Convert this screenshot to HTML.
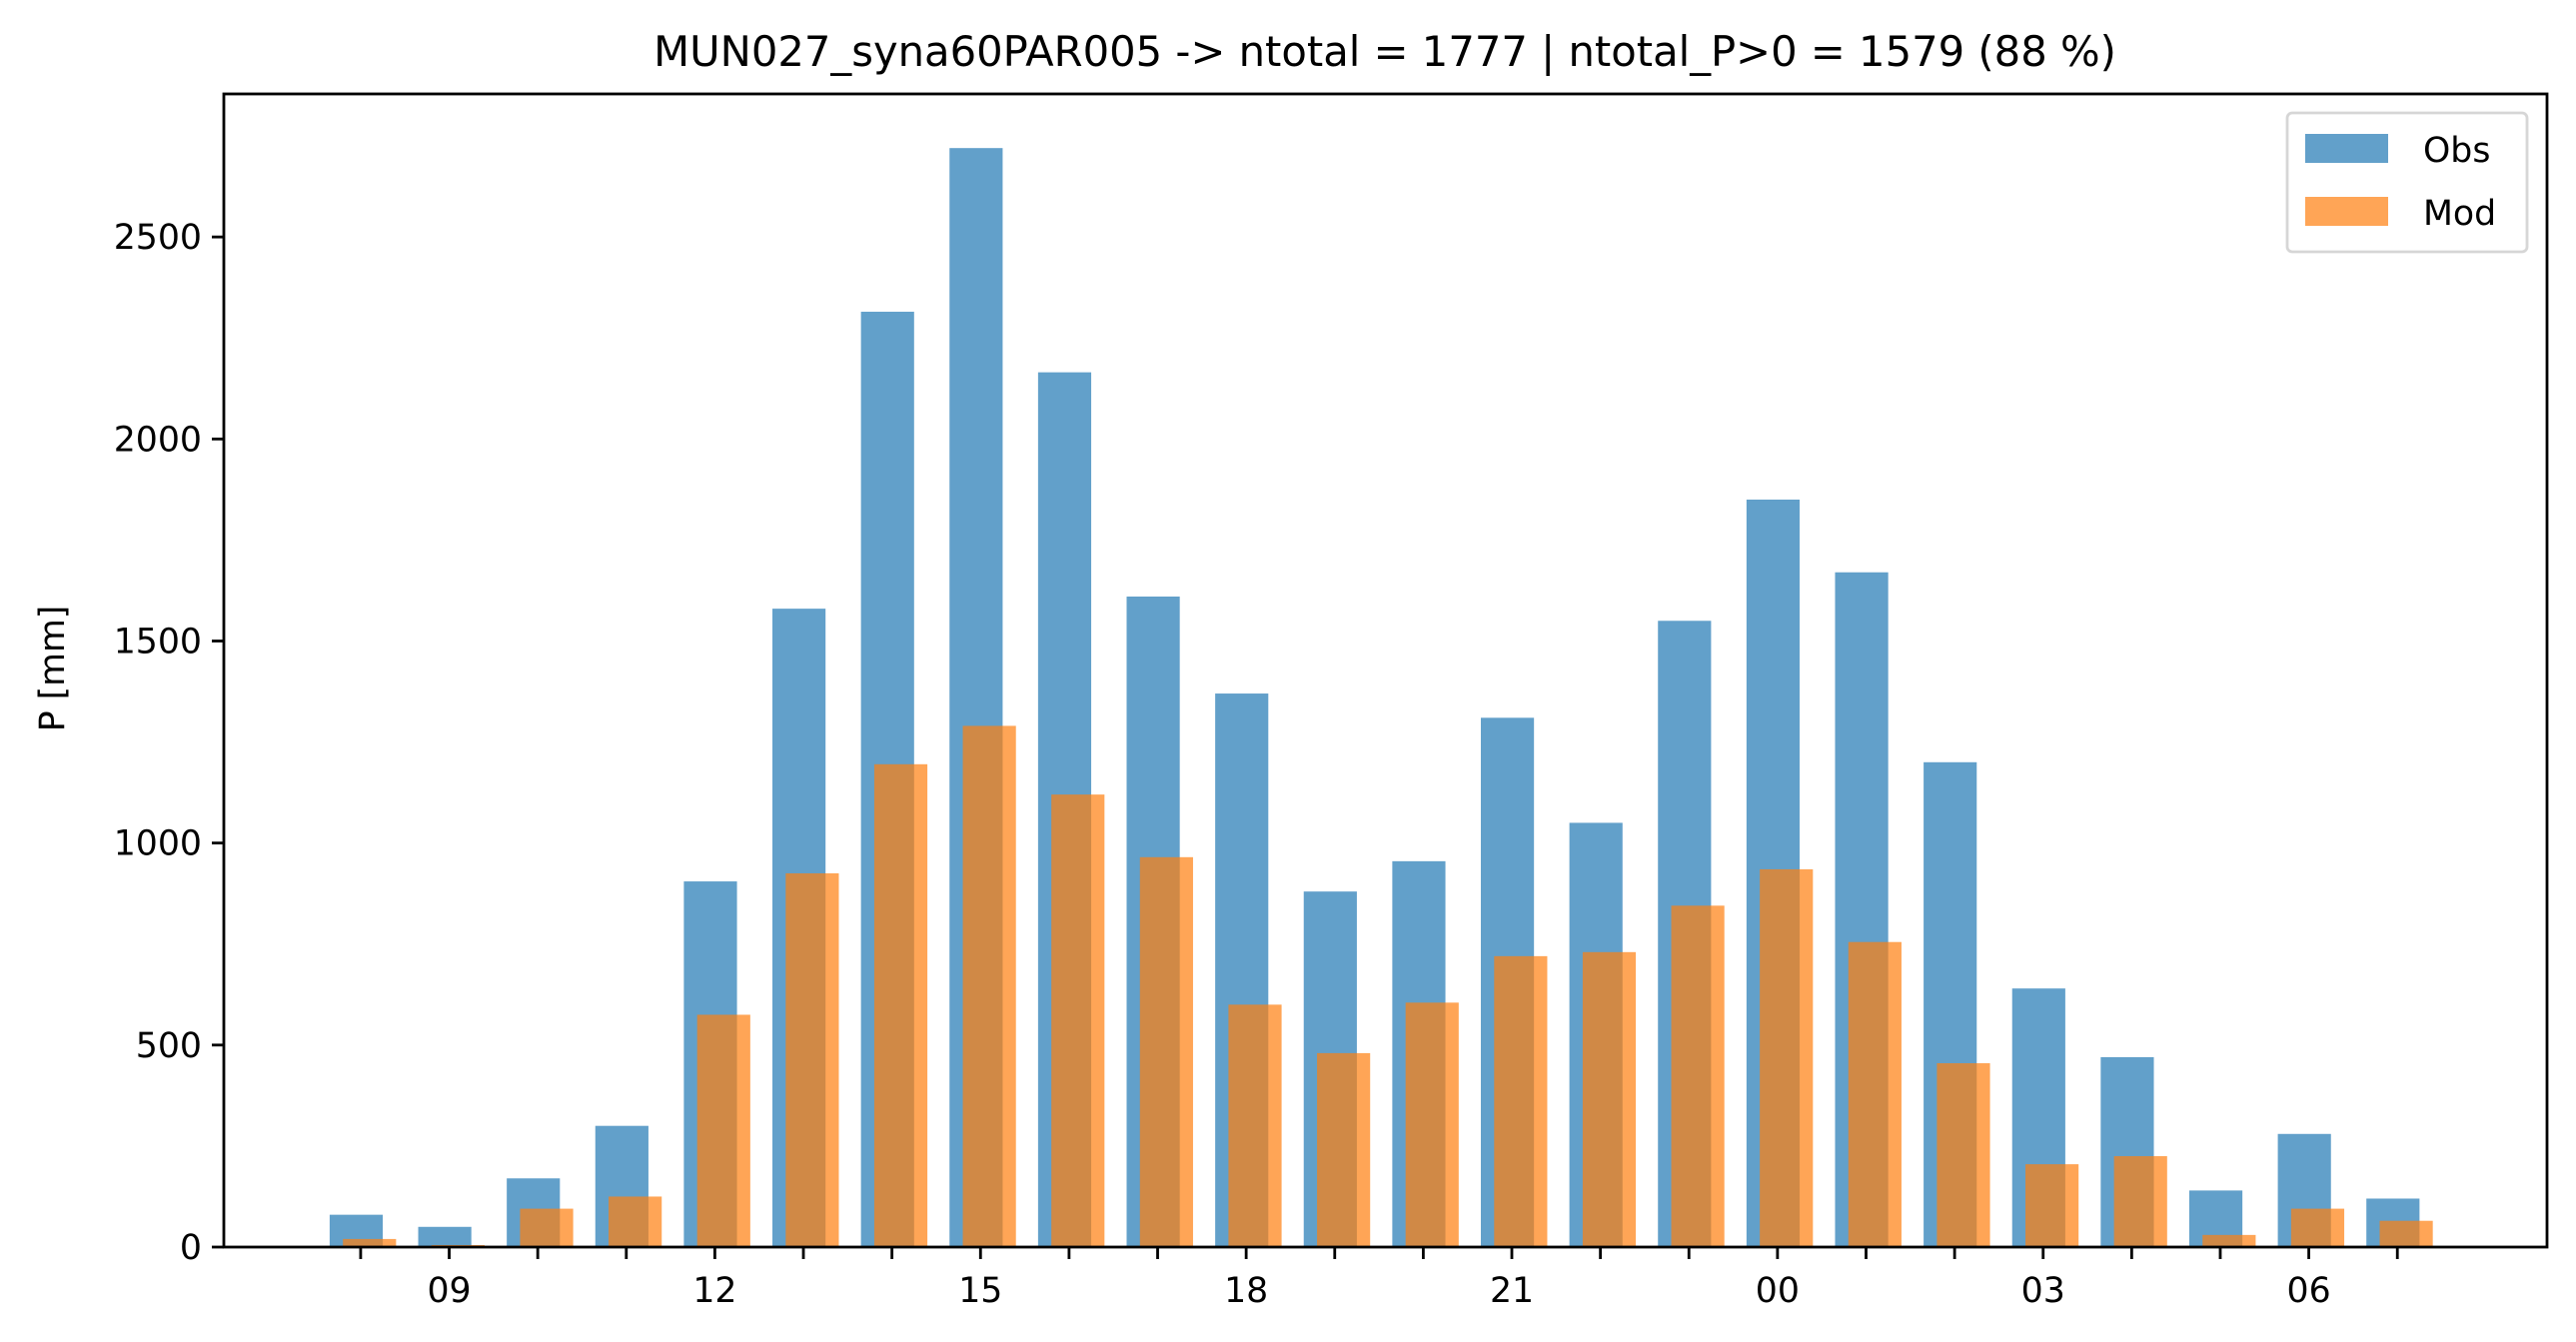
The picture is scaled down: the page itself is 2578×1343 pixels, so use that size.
<!DOCTYPE html>
<html><head><meta charset="utf-8"><style>
html,body{margin:0;padding:0;background:#fff;}
svg{display:block;font-family:"DejaVu Sans","Liberation Sans",sans-serif;}
</style></head><body>
<svg id="chart" width="2578" height="1343" viewBox="0 0 2578 1343" xmlns="http://www.w3.org/2000/svg">
<rect width="2578" height="1343" fill="#fff"/>
<text x="1386" y="66" font-size="41.7" text-anchor="middle">MUN027_syna60PAR005 -&gt; ntotal = 1777 | ntotal_P&gt;0 = 1579 (88 %)</text>
<g id="bars"></g>
<g id="axes"></g>
<text transform="translate(64,669) rotate(-90)" font-size="34.7" text-anchor="middle">P [mm]</text>
<g>
<rect x="2289" y="113" width="240" height="139" rx="5" fill="#fff" fill-opacity="0.8" stroke="#d6d6d6" stroke-width="2.8"/>
<rect x="2307" y="134" width="83" height="29" fill="#1f77b4" fill-opacity="0.7"/>
<text x="2425" y="162" font-size="34.7">Obs</text>
<rect x="2307" y="197" width="83" height="29" fill="#ff7f0e" fill-opacity="0.7"/>
<text x="2425" y="225" font-size="34.7">Mod</text>
</g>
</svg>
<script>
const hours = [8,9,10,11,12,13,14,15,16,17,18,19,20,21,22,23,24,25,26,27,28,29,30,31];
const obsValues = [80,50,170,300,905,1580,2315,2720,2165,1610,1370,880,955,1310,1050,1550,1850,1670,1200,640,470,140,280,120];
const modValues = [20,5,95,125,575,925,1195,1290,1120,965,600,480,605,720,730,845,935,755,455,205,225,30,95,65];
const yTicks = [0,500,1000,1500,2000,2500];
const xTickLabels = ["09","12","15","18","21","00","03","06"];
const xTickLabelHours = [9,12,15,18,21,24,27,30];

const L=224,R=2549,T=94,B=1248;
const xMin=6.455,xMax=32.69,yMax=2854;
const NS="http://www.w3.org/2000/svg";
function xs(h){return L+(h-xMin)/(xMax-xMin)*(R-L);}
function ys(v){return B-v/yMax*(B-T);}
function mk(tag,attrs,parent){const e=document.createElementNS(NS,tag);for(const k in attrs)e.setAttribute(k,attrs[k]);parent.appendChild(e);return e;}
const bars=document.getElementById('bars');
const axes=document.getElementById('axes');
const bw=0.6;
hours.forEach((h,i)=>{
  const x0=xs(h-0.05-bw/2), x1=xs(h-0.05+bw/2);
  const r=mk('rect',{x:x0,y:ys(obsValues[i]),width:x1-x0,height:B-ys(obsValues[i]),fill:'#1f77b4','fill-opacity':0.7},bars);
  
  
});
hours.forEach((h,i)=>{
  const x0=xs(h+0.1-bw/2), x1=xs(h+0.1+bw/2);
  const r=mk('rect',{x:x0,y:ys(modValues[i]),width:x1-x0,height:B-ys(modValues[i]),fill:'#ff7f0e','fill-opacity':0.7},bars);
  
  
});
const frame=mk('rect',{x:L,y:T,width:R-L,height:B-T,fill:'none',stroke:'#000','stroke-width':2.8},axes);


yTicks.forEach(v=>{
  const y=ys(v);
  mk('line',{x1:L-12,x2:L,y1:y,y2:y,stroke:'#000','stroke-width':2.8},axes);
  const t=mk('text',{x:L-22,y:y+12,'font-size':34.7,'text-anchor':'end'},axes);
  t.textContent=v;
  
  
});
hours.forEach(h=>{
  const x=xs(h);
  mk('line',{x1:x,x2:x,y1:B,y2:B+12,stroke:'#000','stroke-width':2.8},axes);
});
xTickLabels.forEach((lab,i)=>{
  const t=mk('text',{x:xs(xTickLabelHours[i]),y:1303,'font-size':34.7,'text-anchor':'middle'},axes);
  t.textContent=lab;
  
  
});
</script>
</body></html>
